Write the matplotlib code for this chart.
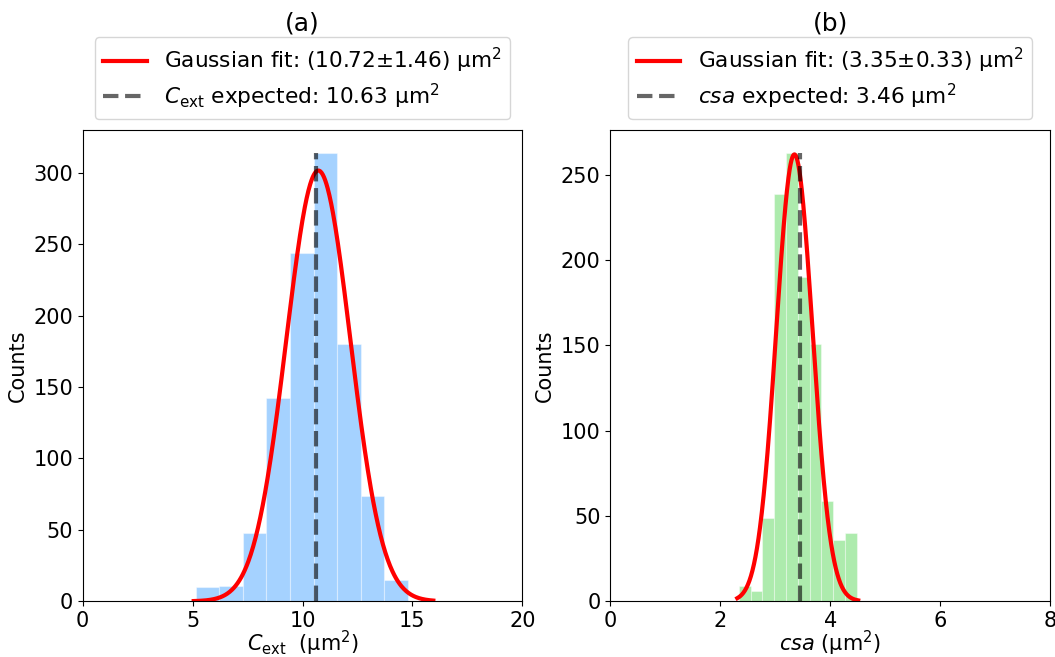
import matplotlib
matplotlib.use('Agg')
import matplotlib.pyplot as plt
import numpy as np

plt.rcParams['font.size'] = 15

# (a) extinction cross section histogram
cext_edges_lo = 5.14
cext_edges_hi = 14.80
cext_counts = [10, 11, 48, 142, 244, 314, 180, 74, 15]
cext_mu, cext_sigma, cext_amp = 10.72, 1.46, 301.5
cext_expected = 10.63
cext_fit_range = (5.05, 15.95)

# (b) csa histogram
csa_edges_lo = 2.337
csa_edges_hi = 4.486
csa_counts = [9, 6, 49, 239, 263, 190, 151, 59, 36, 40]
csa_mu, csa_sigma, csa_amp = 3.35, 0.33, 262
csa_expected = 3.46
csa_fit_range = (2.31, 4.51)


def gauss(x, a, mu, s):
    return a * np.exp(-(x - mu) ** 2 / (2 * s ** 2))


def panel(ax, lo, hi, counts, mu, sig, amp, expected, frange, color,
          fit_lab, exp_lab, xlabel, xmax, title):
    edges = np.linspace(lo, hi, len(counts) + 1)
    ax.hist(edges[:-1], bins=edges, weights=counts, color=color, alpha=0.4,
            edgecolor='white', linewidth=0.8)
    xx = np.linspace(frange[0], frange[1], 400)
    ax.plot(xx, gauss(xx, amp, mu, sig), color='red', lw=3, label=fit_lab)
    ax.vlines(expected, 0, max(counts), colors='k', alpha=0.6,
              linestyles='--', lw=3, label=exp_lab)
    ax.set_xlim(0, xmax)
    ax.set_xlabel(xlabel, labelpad=-1.5)
    ax.set_ylabel('Counts')
    ax.set_title(title, pad=72)
    ax.legend(loc='lower center', bbox_to_anchor=(0.5, 1.0),
              labelspacing=0.3, fontsize=15.6)


fig = plt.figure(figsize=(10.55, 6.57), dpi=100)
ax1 = fig.add_axes([0.0784, 0.0848, 0.4167, 0.7169])
ax2 = fig.add_axes([0.5785, 0.0848, 0.4167, 0.7169])

panel(ax1, cext_edges_lo, cext_edges_hi, cext_counts, cext_mu, cext_sigma,
      cext_amp, cext_expected, cext_fit_range, 'dodgerblue',
      'Gaussian fit: (10.72±1.46) μm$^2$',
      r'$C_\mathrm{ext}$ expected: 10.63 μm$^2$',
      r'$C_\mathrm{ext}$  (μm$^2$)', 20, '(a)')
panel(ax2, csa_edges_lo, csa_edges_hi, csa_counts, csa_mu, csa_sigma,
      csa_amp, csa_expected, csa_fit_range, 'limegreen',
      'Gaussian fit: (3.35±0.33) μm$^2$',
      r'$csa$ expected: 3.46 μm$^2$',
      r'$csa$ (μm$^2$)', 8, '(b)')

fig.savefig('out.png', dpi=100)
